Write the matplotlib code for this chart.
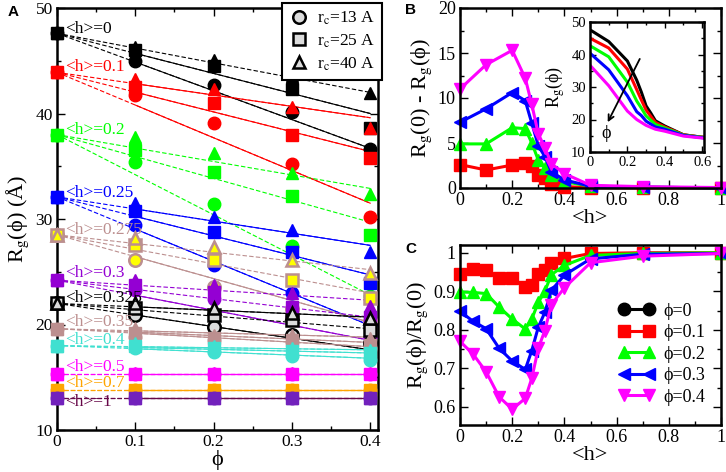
import numpy as np
import matplotlib
matplotlib.use('Agg')
import matplotlib.pyplot as plt
from matplotlib.ticker import MultipleLocator, FuncFormatter

plt.rcParams['font.family'] = ['Liberation Serif', 'DejaVu Serif']
plt.rcParams['mathtext.fontset'] = 'stix'
PHI = '\u03d5'

# ---- panel A data: Rg vs phi for each <h>, three cutoffs ----
phi = [0, 0.1, 0.2, 0.3, 0.4]
h_names = ['0', '0.1', '0.2', '0.25', '0.275', '0.3', '0.325', '0.35', '0.4', '0.5', '0.7', '1']

rg_13 = [[47.6, 45.0, 42.7, 40.1, 36.6],
         [43.9, 41.8, 39.1, 35.2, 30.2],
         [38.0, 35.4, 31.4, 27.4, 22.7],
         [32.1, 29.4, 25.6, 23.0, 20.0],
         [28.5, 26.1, 23.6, 21.5, 20.3],
         [24.2, 23.3, 22.4, 20.7, 18.8],
         [22.0, 20.9, 19.8, 19.0, 18.2],
         [19.6, 18.8, 18.5, 18.3, 17.8],
         [18.0, 17.8, 17.4, 17.0, 16.6],
         [15.3, 15.3, 15.3, 15.3, 15.3],
         [13.8, 13.8, 13.8, 13.8, 13.8],
         [13.0, 13.0, 13.0, 13.0, 13.0]]
rg_25 = [[47.6, 46.0, 44.5, 42.3, 38.6],
         [43.9, 42.5, 41.0, 38.0, 35.8],
         [38.0, 36.5, 34.5, 32.2, 28.5],
         [32.1, 30.8, 28.8, 26.9, 23.9],
         [28.5, 27.5, 26.1, 24.2, 22.5],
         [24.2, 23.7, 23.1, 21.7, 20.7],
         [22.0, 21.6, 20.9, 20.4, 19.5],
         [19.6, 19.2, 18.7, 18.5, 18.1],
         [18.0, 18.0, 17.8, 17.5, 17.3],
         [15.3, 15.3, 15.3, 15.3, 15.3],
         [13.8, 13.8, 13.8, 13.8, 13.8],
         [13.0, 13.0, 13.0, 13.0, 13.0]]
rg_40 = [[47.6, 46.3, 45.1, 43.6, 41.9],
         [43.9, 43.3, 42.3, 40.6, 38.6],
         [38.0, 37.8, 36.3, 34.4, 32.4],
         [32.1, 31.5, 30.2, 29.0, 26.9],
         [28.5, 28.2, 27.3, 26.1, 24.9],
         [24.2, 24.2, 23.7, 23.0, 21.8],
         [22.0, 22.0, 21.6, 21.1, 20.6],
         [19.6, 19.7, 19.0, 19.0, 18.7],
         [18.0, 18.2, 18.0, 17.8, 17.6],
         [15.3, 15.4, 15.4, 15.4, 15.4],
         [13.8, 13.8, 13.8, 13.8, 13.8],
         [13.0, 13.0, 13.0, 13.0, 13.0]]
# fitted line values at phi = 0.4 (r_c = 13, 25, 40)
fit_end = [[36.7, 40.0, 42.0],
           [31.5, 36.4, 39.6],
           [22.8, 29.7, 32.9],
           [19.9, 24.7, 27.5],
           [20.2, 23.0, 25.2],
           [18.5, 20.7, 22.3],
           [17.6, 19.6, 20.7],
           [17.9, 18.3, 18.8],
           [16.8, 17.3, 17.6],
           [15.3, 15.3, 15.3],
           [13.8, 13.8, 13.8],
           [13.0, 13.0, 13.0]]
label_y = [48.0, 44.4, 38.4, 32.5, 29.0, 24.9, 22.5, 20.2, 18.5, 16.0, 14.5, 12.7]

# ---- panel B / C / inset data ----
hB = [0, 0.1, 0.2, 0.25, 0.275, 0.3, 0.325, 0.35, 0.4, 0.5, 0.7, 1]
dB_01 = [2.6, 2.0, 2.55, 2.75, 2.4, 1.45, 1.1, 0.4, 0.15, 0.05, 0.0, 0.0]
dB_02 = [4.9, 4.9, 6.7, 6.6, 5.0, 3.1, 2.2, 1.4, 0.7, 0.2, 0.1, 0.0]
dB_03 = [7.3, 8.8, 10.6, 9.7, 7.2, 4.7, 3.5, 1.8, 0.9, 0.2, 0.1, 0.0]
dB_04 = [11.0, 13.7, 15.3, 12.2, 9.3, 6.0, 4.5, 2.7, 1.6, 0.3, 0.15, 0.05]

hC = [0, 0.05, 0.1, 0.15, 0.2, 0.25, 0.275, 0.3, 0.325, 0.35, 0.4, 0.5, 0.7, 1]
rC_01 = [0.946, 0.958, 0.955, 0.935, 0.935, 0.911, 0.917, 0.946, 0.955, 0.974, 0.985, 0.998, 1.0, 1.0]
rC_02 = [0.898, 0.897, 0.894, 0.859, 0.828, 0.802, 0.828, 0.871, 0.9, 0.943, 0.967, 0.993, 0.998, 1.0]
rC_03 = [0.848, 0.822, 0.803, 0.752, 0.719, 0.697, 0.746, 0.807, 0.845, 0.902, 0.942, 0.984, 0.996, 0.998]
rC_04 = [0.77, 0.737, 0.691, 0.626, 0.594, 0.622, 0.674, 0.752, 0.798, 0.865, 0.909, 0.974, 0.991, 0.998]

hI = [0, 0.1, 0.2, 0.25, 0.275, 0.3, 0.325, 0.35, 0.4, 0.5, 0.7]
rgI_0 = [47.6, 44.0, 38.0, 32.1, 28.4, 24.2, 22.0, 19.6, 18.0, 15.3, 13.8]
rgI_01 = [45.0, 42.0, 35.5, 29.2, 26.0, 22.9, 21.0, 19.1, 17.7, 15.3, 13.8]
rgI_02 = [42.7, 39.3, 31.5, 25.7, 23.5, 21.1, 19.8, 18.5, 17.4, 15.2, 13.8]
rgI_03 = [40.4, 35.3, 27.3, 22.4, 21.2, 19.5, 18.6, 17.7, 17.0, 15.1, 13.7]
rgI_04 = [36.7, 30.4, 22.6, 20.0, 19.1, 18.2, 17.6, 17.0, 16.4, 14.9, 13.7]

# styles
edge_c = ['black', 'red', '#00ff00', 'blue', '#bc8f8f', '#9400d3', 'black',
          '#bc8f8f', '#40e0d0', 'magenta', '#ffa500', '#7221bc']
face_c = ['black', 'red', '#00ff00', 'blue', 'yellow', '#9400d3', '#dcdcdc',
          '#bc8f8f', '#40e0d0', 'magenta', '#ffa500', '#7221bc']
line_c = ['black', 'red', '#00ff00', 'blue', '#bc8f8f', '#9400d3', 'black',
          '#bc8f8f', '#40e0d0', 'magenta', '#ffa500', '#670748']
# 's' = dashed up to phi=0.1 then solid, 'd' = dashed all the way
line_st = [['s', 's', 'd'], ['s', 's', 's'], ['d', 'd', 'd'], ['s', 's', 's'],
           ['s', 'd', 'd'], ['s', 'd', 'd'], ['s', 'd', 's'], ['s', 's', 's'],
           ['s', 's', 's'], ['s', 's', 's'], ['s', 's', 's'], ['s', 's', 's']]

W, H = 726, 472
fig = plt.figure(figsize=(W / 100, H / 100), dpi=100)


def px_axes(l, t, r, b):
    return fig.add_axes([l / W, 1 - b / H, (r - l) / W, (b - t) / H])


def style_ax(ax, xmaj, ymaj, fs, lw=1.8):
    ax.xaxis.set_major_locator(MultipleLocator(xmaj))
    ax.xaxis.set_minor_locator(MultipleLocator(xmaj / 2))
    ax.yaxis.set_major_locator(MultipleLocator(ymaj))
    ax.yaxis.set_minor_locator(MultipleLocator(ymaj / 2))
    ax.tick_params(which='both', direction='in', top=True, right=True, width=1.0)
    ax.tick_params(which='major', length=6, labelsize=fs, pad=3)
    ax.tick_params(which='minor', length=3)
    fmt = FuncFormatter(lambda v, p: '%g' % round(v, 3))
    ax.xaxis.set_major_formatter(fmt)
    ax.yaxis.set_major_formatter(fmt)
    for s in ax.spines.values():
        s.set_linewidth(lw)


# ---------------- panel A ----------------
axA = px_axes(57, 8, 378, 430)
markers = ['o', 's', '^']
sets = [rg_13, rg_25, rg_40]
for i in range(len(h_names)):
    for k in range(3):
        x_end = [0, 0.4]
        y_end = [sets[k][i][0], fit_end[i][k]]
        axA.plot(x_end, y_end, '--', color=line_c[i], lw=0.8, dashes=(4, 2), zorder=2)
        if line_st[i][k] == 's':
            xs = [0.1, 0.4]
            axA.plot(xs, np.interp(xs, x_end, y_end), '-', color=line_c[i], lw=0.8, zorder=2)
for i in range(len(h_names)):
    for k in range(3):
        mew = 1.8 if face_c[i] != edge_c[i] else 1.0
        axA.plot(phi, sets[k][i], markers[k], ms=9, mfc=face_c[i], mec=edge_c[i],
                 mew=mew, clip_on=False, zorder=4)
    axA.text(0.01, label_y[i], '<h>=' + h_names[i], color=line_c[i], fontsize=12.5,
             va='center', ha='left', zorder=5)
axA.set_xlim(0, 0.41)
axA.set_ylim(10, 50)
style_ax(axA, 0.1, 10, 12.5)
axA.set_xlabel(PHI, fontsize=16, labelpad=0)
axA.set_ylabel(r'R$_{\rm g}$(' + PHI + ') (Å)', fontsize=16)
axA.yaxis.set_label_coords(-0.08, 0.5)

leg_h = [plt.Line2D([], [], ls='none', marker=m, ms=9, mfc='#dcdcdc', mec='black', mew=1.8)
         for m in markers]
legA = axA.legend(leg_h, [r'r$_{\rm c}$=13 A', r'r$_{\rm c}$=25 A', r'r$_{\rm c}$=40 A'],
                  loc='upper right', bbox_to_anchor=(382 / W, 1 - 3 / H),
                  bbox_transform=fig.transFigure, fontsize=12.5, fancybox=False,
                  edgecolor='black', framealpha=1, borderaxespad=0, handletextpad=0.4,
                  handlelength=1.2, labelspacing=0.3, borderpad=0.4)
legA.get_frame().set_linewidth(1.5)
legA.set_zorder(10)

# ---------------- panel B ----------------
axB = px_axes(460, 8, 721, 188)
kw = dict(lw=2.2, ms=8, clip_on=False)
axB.plot(hB, dB_01, 's-', color='red', **kw)
axB.plot(hB, dB_02, '^-', color='#00ff00', **kw)
axB.plot(hB, dB_03, '<-', color='blue', **kw)
axB.plot(hB, dB_04, 'v-', color='magenta', **kw)
axB.set_xlim(0, 1)
axB.set_ylim(0, 20)
style_ax(axB, 0.2, 5, 13)
axB.set_xlabel('<h>', fontsize=16, labelpad=0)
axB.set_ylabel(r'R$_{\rm g}$(0) - R$_{\rm g}$(' + PHI + ')', fontsize=16)
axB.yaxis.set_label_coords(-0.1, 0.5)

# inset
axI = px_axes(590, 22, 704, 152)
axI.plot(hI, rgI_0, color='black', lw=2.2)
axI.plot(hI, rgI_01, color='red', lw=2.2)
axI.plot(hI, rgI_02, color='#00ff00', lw=2.2)
axI.plot(hI, rgI_03, color='blue', lw=2.2)
axI.plot(hI, rgI_04, color='magenta', lw=2.2)
axI.set_xlim(0, 0.61)
axI.set_ylim(10, 50)
style_ax(axI, 0.2, 10, 10.5, lw=1.8)
axI.tick_params(which='major', length=4)
axI.tick_params(which='minor', length=2)
axI.set_ylabel(r'R$_{\rm g}$(' + PHI + ')', fontsize=13)
axI.yaxis.set_label_coords(-0.2, 0.5)
axI.annotate('', xy=(0.088, 18.4), xytext=(0.273, 39.4),
             arrowprops=dict(arrowstyle='->', color='black', lw=1.3))
axI.text(0.088, 15.6, PHI, fontsize=13, ha='center', va='center')

# ---------------- panel C ----------------
axC = px_axes(460, 245, 721, 425)
axC.plot(hC, rC_01, 's-', color='red', **kw)
axC.plot(hC, rC_02, '^-', color='#00ff00', **kw)
axC.plot(hC, rC_03, '<-', color='blue', **kw)
axC.plot(hC, rC_04, 'v-', color='magenta', **kw)
axC.set_xlim(0, 1)
axC.set_ylim(0.553, 1.02)
style_ax(axC, 0.2, 0.1, 13)
axC.set_xlabel('<h>', fontsize=16, labelpad=0)
axC.set_ylabel(r'R$_{\rm g}$(' + PHI + r')/R$_{\rm g}$(0)', fontsize=16)
axC.yaxis.set_label_coords(-0.115, 0.5)
legC_h = [plt.Line2D([], [], color=c, marker=m, lw=2.2, ms=9)
          for c, m in zip(['black', 'red', '#00ff00', 'blue', 'magenta'],
                          ['o', 's', '^', '<', 'v'])]
legC_l = [PHI + '=0', PHI + '=0.1', PHI + '=0.2', PHI + '=0.3', PHI + '=0.4']
axC.legend(legC_h, legC_l, loc='upper left', bbox_to_anchor=(0.58, 0.72), frameon=False,
           fontsize=13, numpoints=2, handlelength=2.0, handletextpad=0.5,
           labelspacing=0.25, borderaxespad=0)

for txt, x, y in [('A', 8, 12), ('B', 405, 10), ('C', 405, 249)]:
    fig.text(x / W, 1 - y / H, txt, fontsize=11, fontweight='bold',
             family='Liberation Sans', va='center', ha='left')

fig.savefig('out.png', dpi=100)
